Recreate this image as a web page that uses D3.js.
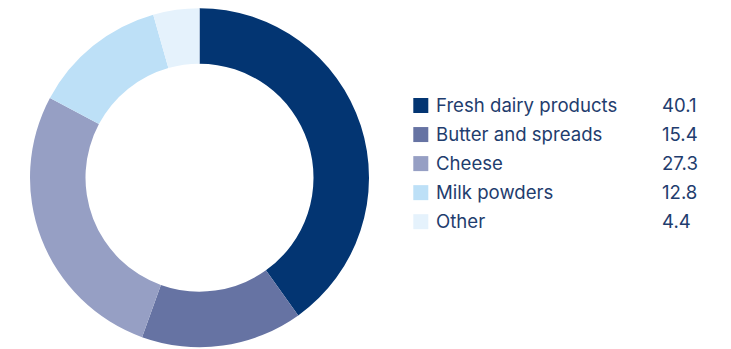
<!DOCTYPE html>
<html>
<head>
<meta charset="utf-8">
<script src="https://cdn.jsdelivr.net/npm/d3@7"></script>
<style>
  body { margin: 0; background: #fff; }
  svg { display: block; }
  text { font-family: Inter, "Noto Sans", sans-serif; fill: #1f3d6e; }
</style>
</head>
<body>
<script>
// share by category, %
const categories = ["Fresh dairy products", "Butter and spreads", "Cheese", "Milk powders", "Other"];
const values = [40.1, 15.4, 27.3, 12.8, 4.4];
const valueLabels = ["40.1", "15.4", "27.3", "12.8", "4.4"];
const colors = ["#033572", "#6673a3", "#969fc4", "#bde0f7", "#e5f2fc"];

const width = 731, height = 349;
const svg = d3.select("body").append("svg").attr("width", width).attr("height", height);

const cx = 199.5, cy = 177.7;
const outerR = 169.5, innerR = 114;

const pie = d3.pie().sort(null).value(d => d);
const arc = d3.arc().innerRadius(innerR).outerRadius(outerR);

const color = d3.scaleOrdinal().domain(categories).range(colors);

svg.append("g")
  .attr("transform", `translate(${cx},${cy})`)
  .selectAll("path")
  .data(pie(values))
  .enter()
  .append("path")
  .attr("d", arc)
  .attr("fill", (d, i) => color(categories[i]));

// legend
const rowY = d3.scalePoint().domain(categories).range([105.5, 221.7]);

const legend = svg.append("g")
  .selectAll("g")
  .data(categories)
  .enter()
  .append("g")
  .attr("transform", d => `translate(0,${rowY(d)})`);

legend.append("rect")
  .attr("x", 413.3)
  .attr("y", -7.5)
  .attr("width", 15)
  .attr("height", 15)
  .attr("fill", d => color(d));

legend.append("text")
  .attr("x", 436)
  .attr("dy", "0.36em")
  .style("font-size", "18.6px")
  .text(d => d);

legend.append("text")
  .attr("x", 662)
  .attr("dy", "0.36em")
  .style("font-size", "18.6px")
  .text((d, i) => valueLabels[i]);
</script>
</body>
</html>
